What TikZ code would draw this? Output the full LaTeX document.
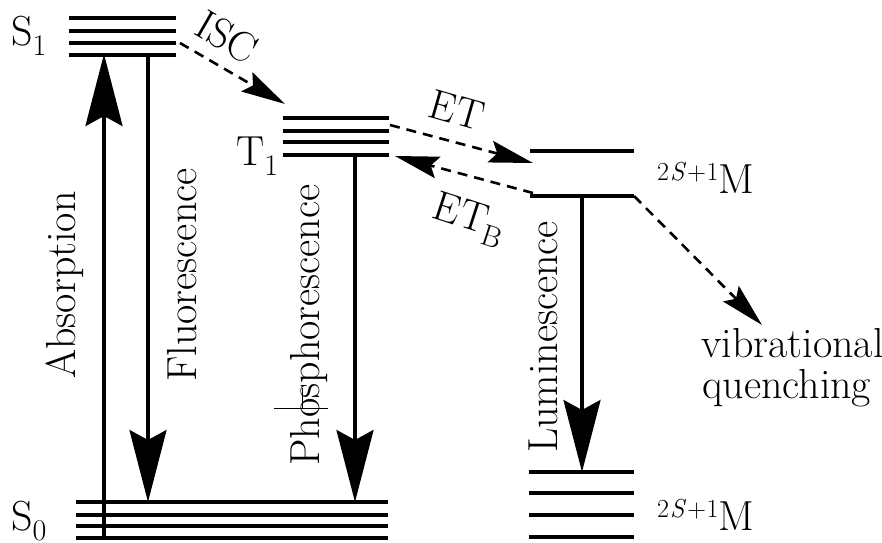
\documentclass[tikz,border=0pt]{standalone}
\usepackage{fontspec}
\usetikzlibrary{arrows.meta}
\newcommand\lowsub[1]{\raisebox{-10pt}{\fontsize{30}{30}\selectfont #1}}
\newcommand\spinlabel{\raisebox{13pt}{\fontsize{26}{26}\selectfont 2\kern1pt\textit{S}\kern1pt+\kern0.5pt1}M}
\begin{document}
\begin{tikzpicture}[x=1pt,y=-1pt,
  levelline/.style={line width=4pt},
  bigarrow/.style={line width=3.4pt,-{Stealth[length=72pt,width=37pt,inset=10pt]}},
  dasharrow/.style={line width=2.6pt,dash pattern=on 10pt off 7pt,-{Stealth[length=44pt,width=22pt,inset=7pt]}},
  lbl/.style={inner sep=0pt,font=\fontsize{42}{42}\selectfont},
  ]
\useasboundingbox (0,0) rectangle (882,542);
% energy levels
\foreach \y in {18,31,43,55} \draw[levelline] (69,\y) -- (176,\y);
\foreach \y in {118,131,142,155} \draw[levelline] (283,\y) -- (389,\y);
\foreach \y in {502,515,526,538} \draw[levelline] (76,\y) -- (388,\y);
\foreach \y in {151,196} \draw[levelline] (530,\y) -- (634,\y);
\foreach \y in {472,493,515,537} \draw[levelline] (529,\y) -- (634,\y);
% named points
\coordinate (absA) at (104,540);
\coordinate (absB) at (104,54);
\coordinate (fluA) at (148,55);
\coordinate (fluB) at (148,502);
\coordinate (phoA) at (355,155);
\coordinate (phoB) at (355,502);
\coordinate (lumA) at (582,196);
\coordinate (lumB) at (582,472);
\coordinate (iscA) at (180,43);
\coordinate (iscB) at (285,104);
\coordinate (etA) at (390,125);
\coordinate (etB) at (533,163);
\coordinate (etbA) at (533,193);
\coordinate (etbB) at (395,156);
\coordinate (vibA) at (634,196);
\coordinate (vibB) at (762,325);
% labels
\node[lbl,anchor=base west] (S1) at (11,45) {S\lowsub{1}};
\node[lbl,anchor=base west] (T1) at (236,165) {T\lowsub{1}};
\node[lbl,anchor=base west] (S0) at (11,530) {S\lowsub{0}};
\node[lbl,anchor=base west] (Mup) at (657,193) {\spinlabel};
\node[lbl,anchor=base west] (Mlow) at (657,530) {\spinlabel};
\node[lbl,anchor=base west] (vib) at (701,357) {vibrational};
\node[lbl,anchor=base west] (que) at (702,398) {quenching};
\node[lbl,rotate=90,anchor=base] (abs) at (75,285) {Absorption};
\node[lbl,rotate=90,anchor=base] (flu) at (196,275) {Fluorescence};
\node[lbl,rotate=90,anchor=base] (pho) at (319,325) {Phosphorescence};
\node[lbl,rotate=90,anchor=base] (lum) at (557,337) {Luminescence};
\node[lbl,rotate=-30] (isc) at (227,37) {ISC};
\node[lbl,rotate=-16] (et) at (457,110) {ET};
\node[lbl,rotate=-18] (etb) at (469,220) {ET\lowsub{B}};
% transitions
\draw[bigarrow] (absA) -- (absB);
\draw[bigarrow] (fluA) -- (fluB);
\draw[bigarrow] (phoA) -- (phoB);
\draw[bigarrow] (lumA) -- (lumB);
\draw[dasharrow] (iscA) -- (iscB);
\draw[dasharrow] (etA) -- (etB);
\draw[dasharrow] (etbA) -- (etbB);
\draw[dasharrow] (vibA) -- (vibB);
% small stray marks on the Phosphorescence label
\draw[line width=0.8pt] (274,408) -- (328,408);
\draw[line width=0.8pt] (302,388) -- (302,408);
\end{tikzpicture}
\end{document}
